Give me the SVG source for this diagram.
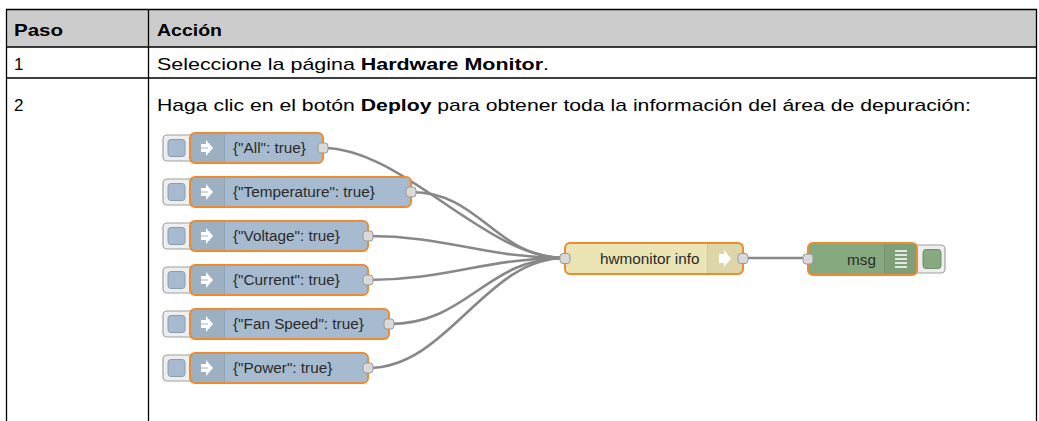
<svg xmlns="http://www.w3.org/2000/svg" width="1039" height="421" viewBox="0 0 1039 421">
<style>
.tb{font-family:"Liberation Sans",Arial,sans-serif;font-size:17px;fill:#000}
.b{font-weight:bold}
.lbl{font-family:"Liberation Sans",Arial,sans-serif;font-size:15.3px;fill:#2a2a2a}
.inj{fill:#a6bbcf;stroke:#ee8b2e;stroke-width:2}
.btn{fill:#eeeeee;stroke:#a0a0a0;stroke-width:1.2}
.btnin{fill:#a6bbcf;stroke:#8a9db0;stroke-width:1}
.ico{fill:#000;fill-opacity:0.06}
.div{stroke:#000;stroke-opacity:0.12;stroke-width:1}
.port{fill:#d9d9d9;stroke:#999;stroke-width:1}
.arw{fill:#fff}
.gap{stroke:#9cb0c4;stroke-width:1}
.wire{fill:none;stroke:#888;stroke-width:2.6}
.grid{stroke:#000;stroke-width:1.3;fill:none}
</style>
<g id="table">
<rect x="6.5" y="9.5" width="1030" height="37.5" fill="#cccccc"/>
<path class="grid" d="M6.5 421V9.5H1036.5V421M6.5 47H1036.5M6.5 78H1036.5M148.5 9.5V421"/>
<text class="tb b" x="14" y="36" textLength="49" lengthAdjust="spacingAndGlyphs">Paso</text>
<text class="tb b" x="157" y="36" textLength="65" lengthAdjust="spacingAndGlyphs">Acción</text>
<text class="tb" x="14" y="70">1</text>
<text class="tb" x="157" y="70" textLength="392" lengthAdjust="spacingAndGlyphs">Seleccione la página <tspan class="b">Hardware Monitor</tspan>.</text>
<text class="tb" x="14" y="111">2</text>
<text class="tb" x="157" y="111" textLength="814" lengthAdjust="spacingAndGlyphs">Haga clic en el botón <tspan class="b">Deploy</tspan> para obtener toda la información del área de depuración:</text>
</g>
<g id="connectors">
<path class="wire" d="M323 148C403 148 485 258 565 258"/>
<path class="wire" d="M411 192C481 192 495 258 565 258"/>
<path class="wire" d="M368 236C448 236 485 258 565 258"/>
<path class="wire" d="M368 280C448 280 485 258 565 258"/>
<path class="wire" d="M389 324C469 324 485 258 565 258"/>
<path class="wire" d="M368 368C448 368 485 258 565 258"/>
<path class="wire" d="M743 258H808"/>
</g>
<g id="inject-all">
<rect class="btn" x="163" y="135" width="32" height="26" rx="4"/>
<rect class="btnin" x="168" y="139.5" width="17" height="17" rx="3"/>
<rect class="inj" x="190" y="133" width="133" height="30" rx="5"/>
<rect class="ico" x="191" y="134" width="33" height="28"/>
<path class="div" d="M224.5 134V162"/>
<path class="arw" d="M201 144H206V140L213 148L206 156V152H201Z"/>
<path class="gap" d="M201 148H208"/>
<text class="lbl" x="233" y="153">{"All": true}</text>
<rect class="port" x="318" y="143" width="10" height="10" rx="3"/>
</g>
<g id="inject-temperature">
<rect class="btn" x="163" y="179" width="32" height="26" rx="4"/>
<rect class="btnin" x="168" y="183.5" width="17" height="17" rx="3"/>
<rect class="inj" x="190" y="177" width="221" height="30" rx="5"/>
<rect class="ico" x="191" y="178" width="33" height="28"/>
<path class="div" d="M224.5 178V206"/>
<path class="arw" d="M201 188H206V184L213 192L206 200V196H201Z"/>
<path class="gap" d="M201 192H208"/>
<text class="lbl" x="233" y="197">{"Temperature": true}</text>
<rect class="port" x="406" y="187" width="10" height="10" rx="3"/>
</g>
<g id="inject-voltage">
<rect class="btn" x="163" y="223" width="32" height="26" rx="4"/>
<rect class="btnin" x="168" y="227.5" width="17" height="17" rx="3"/>
<rect class="inj" x="190" y="221" width="178" height="30" rx="5"/>
<rect class="ico" x="191" y="222" width="33" height="28"/>
<path class="div" d="M224.5 222V250"/>
<path class="arw" d="M201 232H206V228L213 236L206 244V240H201Z"/>
<path class="gap" d="M201 236H208"/>
<text class="lbl" x="233" y="241">{"Voltage": true}</text>
<rect class="port" x="363" y="231" width="10" height="10" rx="3"/>
</g>
<g id="inject-current">
<rect class="btn" x="163" y="267" width="32" height="26" rx="4"/>
<rect class="btnin" x="168" y="271.5" width="17" height="17" rx="3"/>
<rect class="inj" x="190" y="265" width="178" height="30" rx="5"/>
<rect class="ico" x="191" y="266" width="33" height="28"/>
<path class="div" d="M224.5 266V294"/>
<path class="arw" d="M201 276H206V272L213 280L206 288V284H201Z"/>
<path class="gap" d="M201 280H208"/>
<text class="lbl" x="233" y="285">{"Current": true}</text>
<rect class="port" x="363" y="275" width="10" height="10" rx="3"/>
</g>
<g id="inject-fanspeed">
<rect class="btn" x="163" y="311" width="32" height="26" rx="4"/>
<rect class="btnin" x="168" y="315.5" width="17" height="17" rx="3"/>
<rect class="inj" x="190" y="309" width="199" height="30" rx="5"/>
<rect class="ico" x="191" y="310" width="33" height="28"/>
<path class="div" d="M224.5 310V338"/>
<path class="arw" d="M201 320H206V316L213 324L206 332V328H201Z"/>
<path class="gap" d="M201 324H208"/>
<text class="lbl" x="233" y="329">{"Fan Speed": true}</text>
<rect class="port" x="384" y="319" width="10" height="10" rx="3"/>
</g>
<g id="inject-power">
<rect class="btn" x="163" y="355" width="32" height="26" rx="4"/>
<rect class="btnin" x="168" y="359.5" width="17" height="17" rx="3"/>
<rect class="inj" x="190" y="353" width="178" height="30" rx="5"/>
<rect class="ico" x="191" y="354" width="33" height="28"/>
<path class="div" d="M224.5 354V382"/>
<path class="arw" d="M201 364H206V360L213 368L206 376V372H201Z"/>
<path class="gap" d="M201 368H208"/>
<text class="lbl" x="233" y="373">{"Power": true}</text>
<rect class="port" x="363" y="363" width="10" height="10" rx="3"/>
</g>
<g id="hwmonitor-info">
<rect x="565" y="243" width="178" height="31" rx="5" fill="#ebe4b4" stroke="#ee8b2e" stroke-width="2"/>
<rect class="ico" x="708" y="244" width="34" height="29"/>
<path class="div" d="M707.5 244V273"/>
<path class="arw" d="M719 254H724V250L731 258.5L724 267V263H719Z"/>
<text class="lbl" x="600" y="264">hwmonitor info</text>
<rect class="port" x="560" y="253.5" width="10" height="10" rx="3"/>
<rect class="port" x="738" y="253.5" width="10" height="10" rx="3"/>
</g>
<g id="debug-msg">
<rect class="btn" x="912" y="245" width="33" height="28" rx="4"/>
<rect x="923" y="249.5" width="18" height="19" rx="3" fill="#87a980" stroke="#6f8f69" stroke-width="1"/>
<rect x="808" y="243" width="109" height="32" rx="5" fill="#87a980" stroke="#ee8b2e" stroke-width="2"/>
<rect class="ico" x="885" y="244" width="31" height="30"/>
<path class="div" d="M884.5 244V274"/>
<g stroke="#fff" stroke-width="1.6">
<path d="M895 251H907M895 255H907M895 259H907M895 263H907M895 267H907"/>
</g>
<text class="lbl" x="847" y="265">msg</text>
<rect class="port" x="803" y="254" width="10" height="10" rx="3"/>
</g>
</svg>
